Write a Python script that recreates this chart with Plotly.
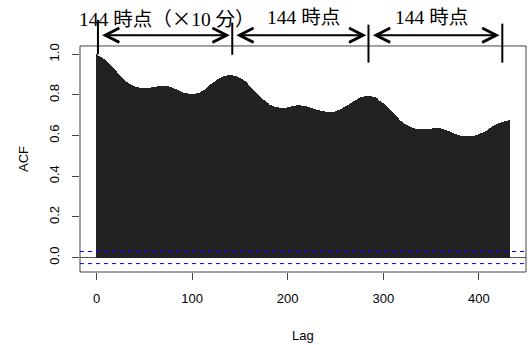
import plotly.graph_objects as go

# ---- data ----
lags = list(range(0, 433))
acf = [
    1.000, 0.997, 0.994, 0.991, 0.988, 0.985, 0.982, 0.978, 0.975, 0.971,
    0.967, 0.962, 0.957, 0.952, 0.947, 0.942, 0.938, 0.933, 0.928, 0.923,
    0.918, 0.913, 0.908, 0.903, 0.898, 0.893, 0.888, 0.884, 0.879, 0.874,
    0.870, 0.866, 0.862, 0.859, 0.856, 0.853, 0.850, 0.848, 0.845, 0.843,
    0.841, 0.840, 0.839, 0.838, 0.837, 0.836, 0.835, 0.835, 0.834, 0.834,
    0.834, 0.834, 0.834, 0.834, 0.835, 0.835, 0.836, 0.836, 0.837, 0.837,
    0.838, 0.839, 0.840, 0.841, 0.842, 0.843, 0.844, 0.845, 0.846, 0.846,
    0.846, 0.846, 0.846, 0.845, 0.844, 0.843, 0.841, 0.840, 0.838, 0.835,
    0.833, 0.831, 0.829, 0.827, 0.825, 0.823, 0.821, 0.818, 0.816, 0.814,
    0.813, 0.812, 0.811, 0.810, 0.809, 0.808, 0.807, 0.806, 0.806, 0.805,
    0.805, 0.805, 0.806, 0.806, 0.807, 0.808, 0.809, 0.811, 0.812, 0.815,
    0.818, 0.821, 0.823, 0.826, 0.830, 0.834, 0.837, 0.841, 0.845, 0.848,
    0.852, 0.855, 0.859, 0.862, 0.866, 0.870, 0.873, 0.877, 0.880, 0.884,
    0.886, 0.888, 0.890, 0.891, 0.893, 0.894, 0.895, 0.896, 0.896, 0.897,
    0.897, 0.897, 0.896, 0.895, 0.894, 0.893, 0.891, 0.890, 0.887, 0.885,
    0.882, 0.880, 0.877, 0.875, 0.871, 0.867, 0.862, 0.858, 0.854, 0.849,
    0.845, 0.840, 0.836, 0.831, 0.826, 0.822, 0.817, 0.812, 0.806, 0.801,
    0.796, 0.790, 0.785, 0.781, 0.777, 0.773, 0.769, 0.765, 0.762, 0.759,
    0.756, 0.753, 0.751, 0.749, 0.747, 0.745, 0.743, 0.742, 0.741, 0.740,
    0.739, 0.738, 0.737, 0.737, 0.737, 0.737, 0.737, 0.737, 0.737, 0.738,
    0.739, 0.740, 0.741, 0.742, 0.744, 0.745, 0.746, 0.747, 0.748, 0.748,
    0.749, 0.749, 0.749, 0.749, 0.748, 0.748, 0.747, 0.746, 0.745, 0.744,
    0.743, 0.741, 0.740, 0.738, 0.737, 0.735, 0.734, 0.732, 0.731, 0.729,
    0.728, 0.726, 0.725, 0.724, 0.722, 0.721, 0.720, 0.719, 0.719, 0.718,
    0.718, 0.717, 0.717, 0.717, 0.716, 0.716, 0.716, 0.716, 0.717, 0.718,
    0.719, 0.720, 0.722, 0.724, 0.726, 0.728, 0.731, 0.733, 0.736, 0.739,
    0.742, 0.744, 0.747, 0.750, 0.753, 0.756, 0.759, 0.762, 0.765, 0.768,
    0.771, 0.774, 0.777, 0.780, 0.782, 0.785, 0.787, 0.789, 0.790, 0.791,
    0.792, 0.793, 0.793, 0.794, 0.794, 0.794, 0.794, 0.793, 0.792, 0.791,
    0.790, 0.788, 0.786, 0.783, 0.779, 0.776, 0.772, 0.768, 0.764, 0.759,
    0.759, 0.754, 0.750, 0.745, 0.740, 0.735, 0.730, 0.725, 0.720, 0.715,
    0.710, 0.705, 0.700, 0.696, 0.691, 0.687, 0.682, 0.678, 0.674, 0.670,
    0.666, 0.663, 0.659, 0.656, 0.653, 0.650, 0.647, 0.645, 0.643, 0.641,
    0.639, 0.637, 0.636, 0.635, 0.634, 0.633, 0.633, 0.632, 0.632, 0.632,
    0.632, 0.632, 0.632, 0.632, 0.632, 0.632, 0.632, 0.633, 0.633, 0.634,
    0.634, 0.635, 0.636, 0.636, 0.637, 0.637, 0.637, 0.637, 0.637, 0.636,
    0.635, 0.634, 0.633, 0.632, 0.630, 0.629, 0.627, 0.625, 0.623, 0.621,
    0.619, 0.616, 0.614, 0.612, 0.610, 0.608, 0.606, 0.604, 0.602, 0.601,
    0.600, 0.599, 0.598, 0.598, 0.597, 0.597, 0.596, 0.596, 0.596, 0.596,
    0.596, 0.596, 0.597, 0.597, 0.598, 0.599, 0.600, 0.601, 0.603, 0.605,
    0.607, 0.609, 0.611, 0.613, 0.615, 0.617, 0.620, 0.622, 0.625, 0.628,
    0.631, 0.634, 0.637, 0.639, 0.642, 0.645, 0.648, 0.651, 0.653, 0.656,
    0.658, 0.660, 0.662, 0.664, 0.666, 0.668, 0.669, 0.671, 0.672, 0.673,
    0.674, 0.675, 0.675,
]
conf_limit = 0.0298
x_ticks = [0, 100, 200, 300, 400]
y_ticks = [0.0, 0.2, 0.4, 0.6, 0.8, 1.0]
y_tick_labels = ["0.0", "0.2", "0.4", "0.6", "0.8", "1.0"]

# period markers and labels (annotation content)
marker_lags = [1.5, 142, 284.5, 424.5]
marker_bottoms = [1.0, 0.998, 0.959, 0.959]
marker_tops = [1.17, 1.156, 1.146, 1.151]
arrow_starts = [4.2, 144.6, 287.5]
arrow_ends = [139.4, 282.3, 421.6]
arrow_level = 1.094
label_texts = [
    "144 時点（<span style='font-family:Noto Sans CJK JP'>×</span>10 分）",
    "144 時点",
    "144 時点",
]
label_lags = [73.5, 216.0, 350.2]
label_level = 1.183

# ---- axis ranges (R style: 4% extension) ----
x_lo, x_hi = -17.28, 449.28
y_lo, y_box_hi = -0.0712, 1.0412
W, H = 532, 345
ML, MR, MT, MB = 80, 6, 0, 73
plot_h = H - MT - MB
y_hi = y_lo + plot_h / 203.2
box_top_paper = (y_box_hi - y_lo) / (y_hi - y_lo)

fig = go.Figure()
fig.add_trace(go.Bar(
    x=lags, y=acf, width=0.85,
    marker=dict(color="#222222", line=dict(width=0)),
    hoverinfo="skip", showlegend=False,
))

shapes = [
    # plot frame
    dict(type="rect", xref="paper", yref="paper", x0=0, x1=1, y0=0, y1=box_top_paper,
         line=dict(color="#444444", width=1), layer="above"),
    # confidence limits
    dict(type="line", xref="paper", yref="y", x0=0, x1=1, y0=conf_limit, y1=conf_limit,
         line=dict(color="blue", width=1, dash="4px,4px"), layer="above"),
    dict(type="line", xref="paper", yref="y", x0=0, x1=1, y0=-conf_limit, y1=-conf_limit,
         line=dict(color="blue", width=1, dash="4px,4px"), layer="above"),
]
for lg, b, t in zip(marker_lags, marker_bottoms, marker_tops):
    shapes.append(dict(type="line", xref="x", yref="y", x0=lg, x1=lg, y0=b, y1=t,
                       line=dict(color="black", width=2), layer="above"))

annotations = []
for s, e in zip(arrow_starts, arrow_ends):
    annotations.append(dict(
        x=e, y=arrow_level, ax=s, ay=arrow_level, xref="x", yref="y",
        axref="x", ayref="y", text="", showarrow=True,
        arrowhead=5, startarrowhead=5, arrowside="end+start",
        arrowsize=1.4, startarrowsize=1.4, arrowwidth=2, arrowcolor="black",
    ))
for txt, lg in zip(label_texts, label_lags):
    annotations.append(dict(
        x=lg, y=label_level, xref="x", yref="y", text=txt, showarrow=False,
        font=dict(family="Liberation Serif, Noto Sans CJK JP", size=19.5, color="black"),
        xanchor="center", yanchor="middle",
    ))
annotations.append(dict(
    x=(x_lo + x_hi) / 2, xref="x", y=(MT + plot_h - 335) / plot_h, yref="paper",
    text="Lag", showarrow=False, font=dict(family="Liberation Sans", size=13, color="black"),
    xanchor="center", yanchor="middle",
))
annotations.append(dict(
    x=-(ML - 24) / (W - ML - MR), xref="paper", y=(y_lo + y_box_hi) / 2, yref="y",
    text="ACF", textangle=-90, showarrow=False,
    font=dict(family="Liberation Sans", size=13, color="black"),
    xanchor="center", yanchor="middle",
))

fig.update_layout(
    width=W, height=H,
    margin=dict(l=ML, r=MR, t=MT, b=MB, pad=0),
    paper_bgcolor="white", plot_bgcolor="white",
    bargap=0, showlegend=False,
    shapes=shapes, annotations=annotations,
    xaxis=dict(range=[x_lo, x_hi], tickvals=x_ticks, ticktext=[str(v) for v in x_ticks],
               ticks="outside", ticklen=7, tickwidth=1, tickcolor="#444444",
               showgrid=False, zeroline=False, showline=False,
               tickfont=dict(family="Liberation Sans", size=13, color="black"),
               ticklabelstandoff=7),
    yaxis=dict(range=[y_lo, y_hi], tickvals=y_ticks, ticktext=y_tick_labels,
               ticks="outside", ticklen=7, tickwidth=1, tickcolor="#444444",
               showgrid=False, zeroline=True, zerolinecolor="#555555", zerolinewidth=1,
               showline=False, tickangle=-90,
               tickfont=dict(family="Liberation Sans", size=13, color="black"),
               ticklabelstandoff=8),
)

fig.write_html("out.html", config={"displayModeBar": False},
               post_script="document.body.style.margin='0';")
